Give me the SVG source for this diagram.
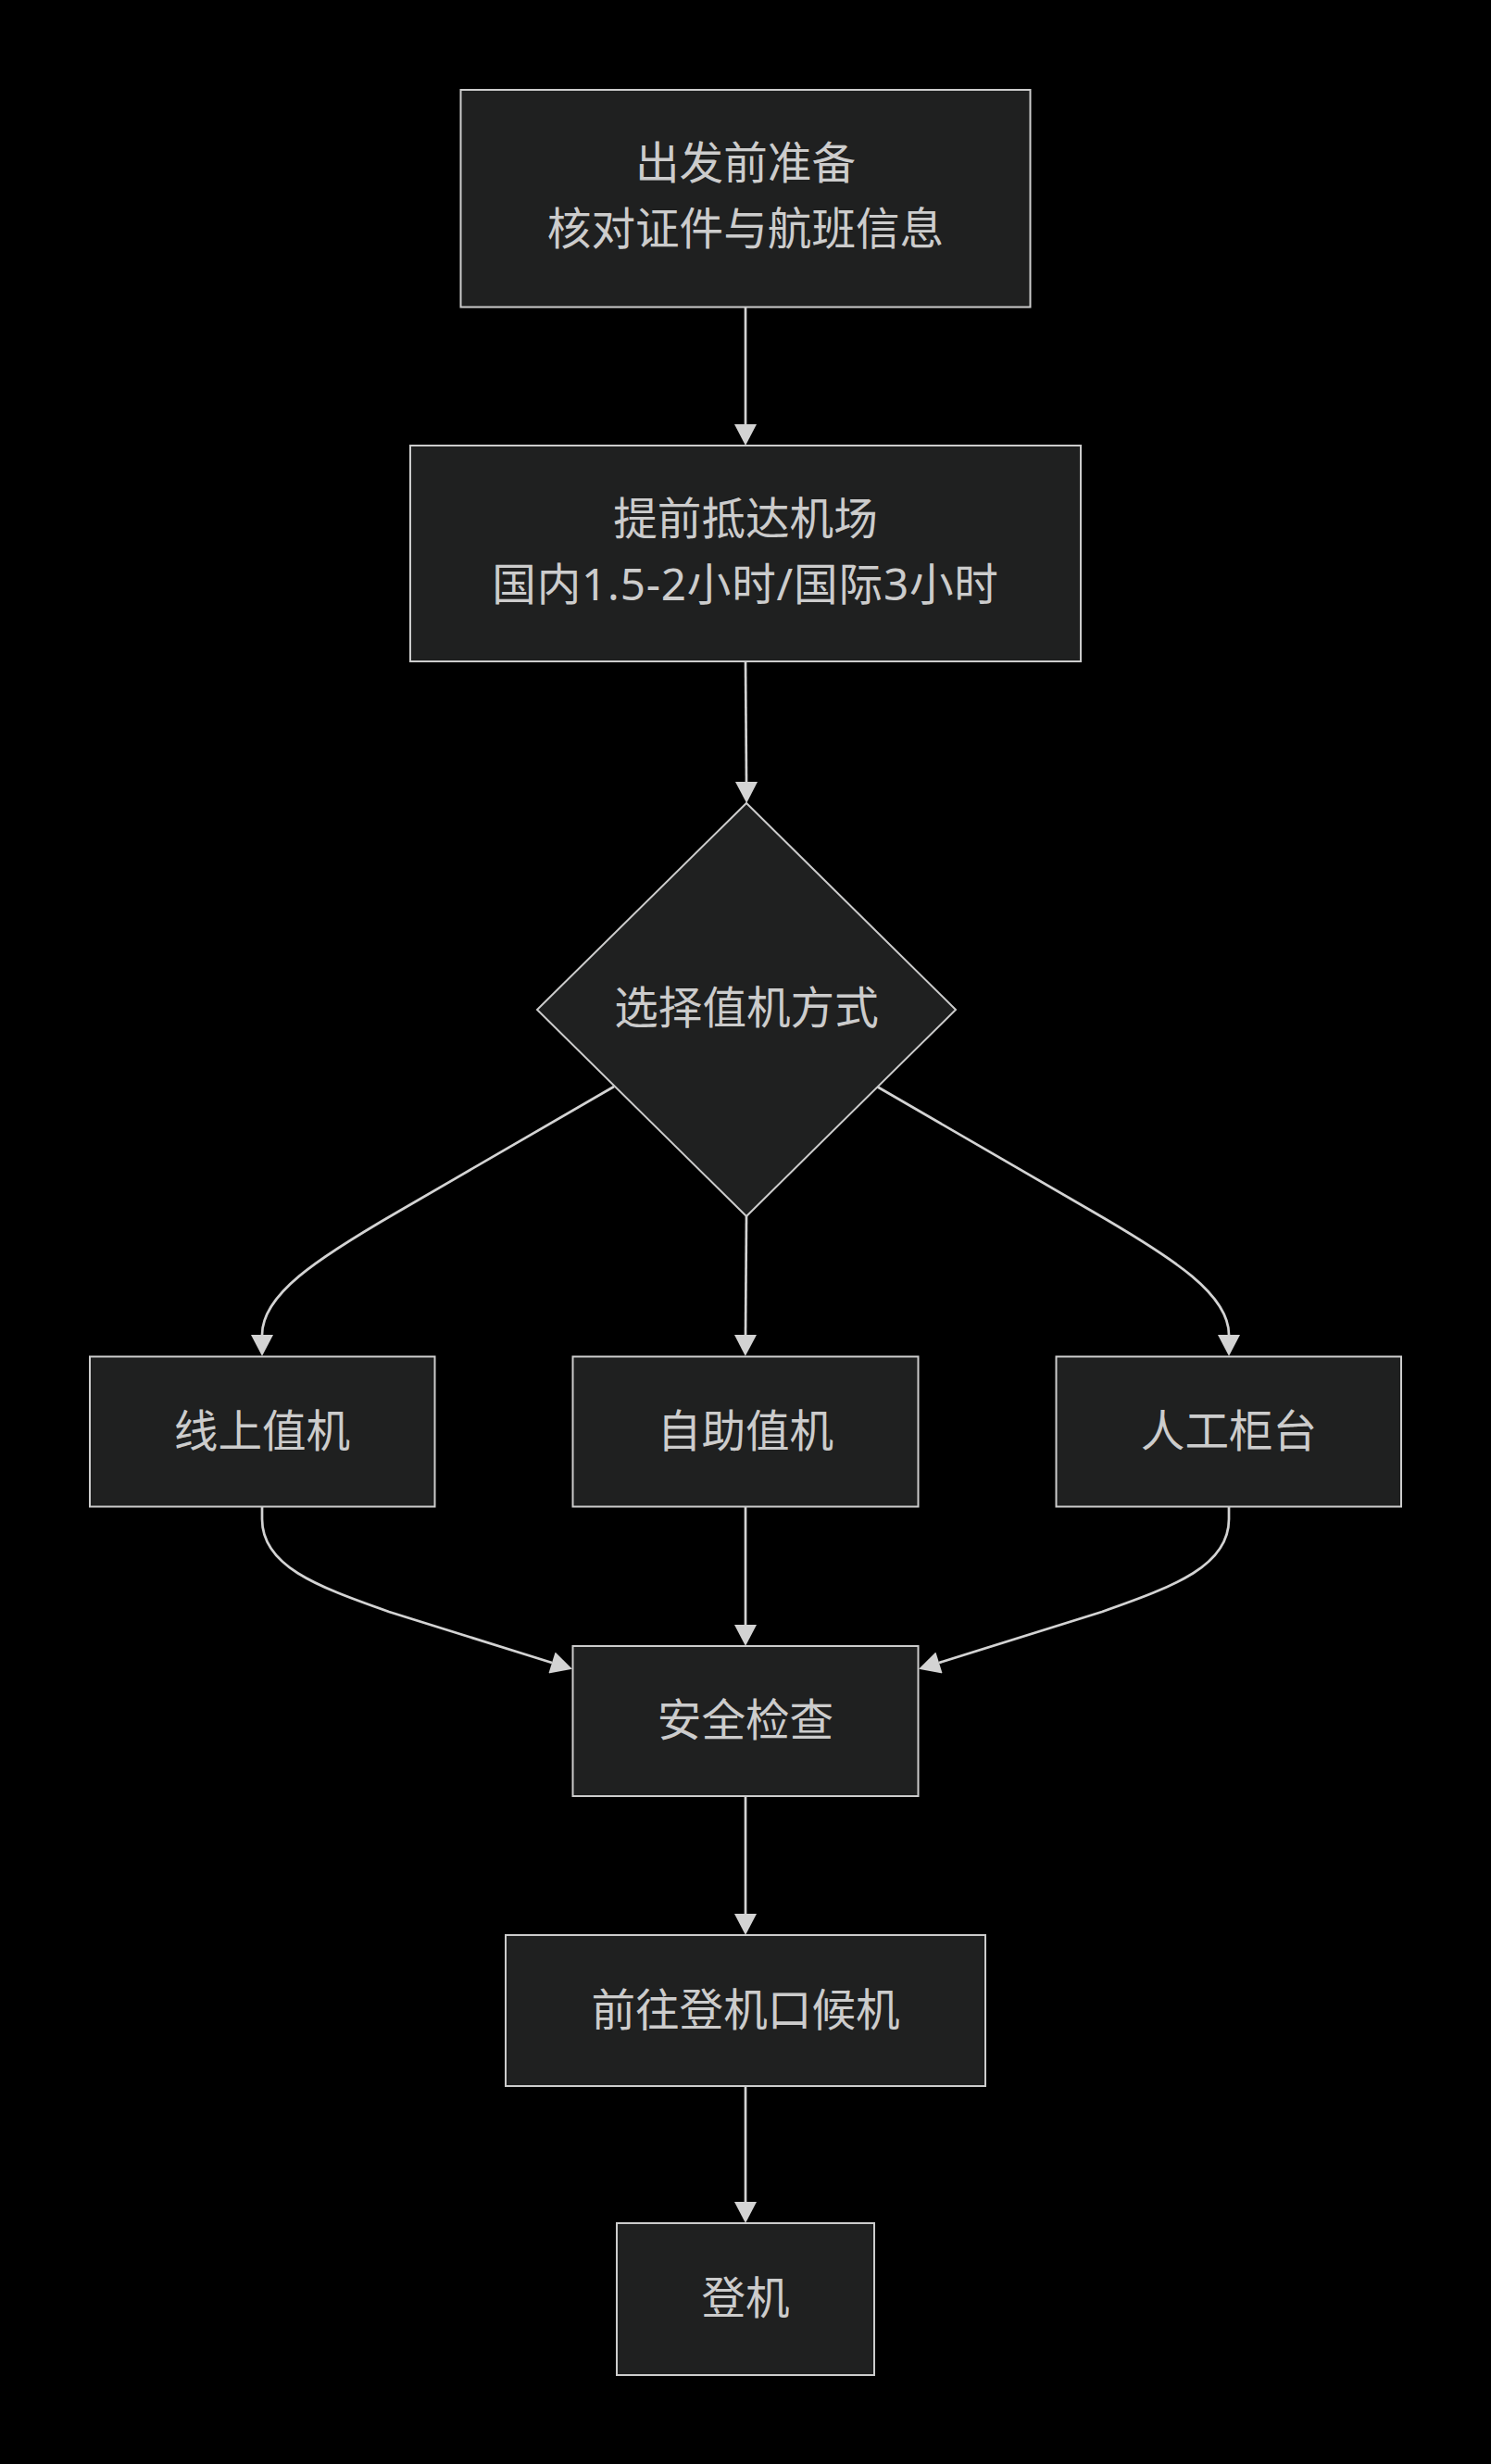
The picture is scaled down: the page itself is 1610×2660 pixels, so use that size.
<svg xmlns="http://www.w3.org/2000/svg" width="1610" height="2660" viewBox="0 0 1610 2660">
<style>
.node rect,.node polygon{fill:#1f2020;stroke:#cccccc;stroke-width:2}
.node text{fill:#cccccc;font-family:"Noto Sans","Noto Sans CJK SC",sans-serif;font-size:47.6px;text-anchor:middle}
.edge{fill:none;stroke:#d3d3d3;stroke-width:2.7;marker-end:url(#arrow)}
</style>
<defs>
<marker id="arrow" markerUnits="userSpaceOnUse" markerWidth="24" markerHeight="24" viewBox="0 0 23 24" refX="0" refY="12" orient="auto">
<path d="M0,0 L23,12 L0,24 Z" fill="#d3d3d3"/>
</marker>
</defs>
<rect width="1610" height="2660" fill="#000000"/>
<g id="connectors">
<path class="edge" d="M805,332 L805,458"/>
<path class="edge" d="M805,714 L806,844"/>
<path class="edge" d="M663,1173 L430,1308 C340,1360 283,1398 283,1441"/>
<path class="edge" d="M806,1313 L805,1441"/>
<path class="edge" d="M947,1173 L1180,1308 C1270,1360 1327,1398 1327,1441"/>
<path class="edge" d="M283,1627 L283,1640 C283,1690 340,1712 420,1740 L596,1795"/>
<path class="edge" d="M805,1627 L805,1754"/>
<path class="edge" d="M1327,1627 L1327,1640 C1327,1690 1270,1712 1190,1740 L1014,1795"/>
<path class="edge" d="M805,1940 L805,2066"/>
<path class="edge" d="M805,2252 L805,2377"/>
</g>
<g id="node-prepare" class="node">
<rect x="497.5" y="97" width="615" height="234.5"/>
<text x="805" y="193">出发前准备</text>
<text x="805" y="264">核对证件与航班信息</text>
</g>
<g id="node-arrive" class="node">
<rect x="443" y="481" width="724" height="233"/>
<text x="805" y="577">提前抵达机场</text>
<text x="805" y="648" letter-spacing="0.8">国内1.5-2小时/国际3小时</text>
</g>
<g id="node-choose" class="node">
<polygon points="806,867 1032,1090 806,1313 580,1090"/>
<text x="806" y="1105">选择值机方式</text>
</g>
<g id="node-online" class="node">
<rect x="97" y="1464.5" width="372.5" height="162"/>
<text x="283" y="1562">线上值机</text>
</g>
<g id="node-kiosk" class="node">
<rect x="618.5" y="1464.5" width="373" height="162"/>
<text x="805" y="1562">自助值机</text>
</g>
<g id="node-counter" class="node">
<rect x="1140.5" y="1464.5" width="372.5" height="162"/>
<text x="1327" y="1562">人工柜台</text>
</g>
<g id="node-security" class="node">
<rect x="618.5" y="1777" width="373" height="162"/>
<text x="805" y="1874">安全检查</text>
</g>
<g id="node-gate" class="node">
<rect x="546" y="2089" width="518" height="163"/>
<text x="805" y="2187">前往登机口候机</text>
</g>
<g id="node-board" class="node">
<rect x="666" y="2400" width="278" height="164"/>
<text x="805" y="2498">登机</text>
</g>
</svg>
